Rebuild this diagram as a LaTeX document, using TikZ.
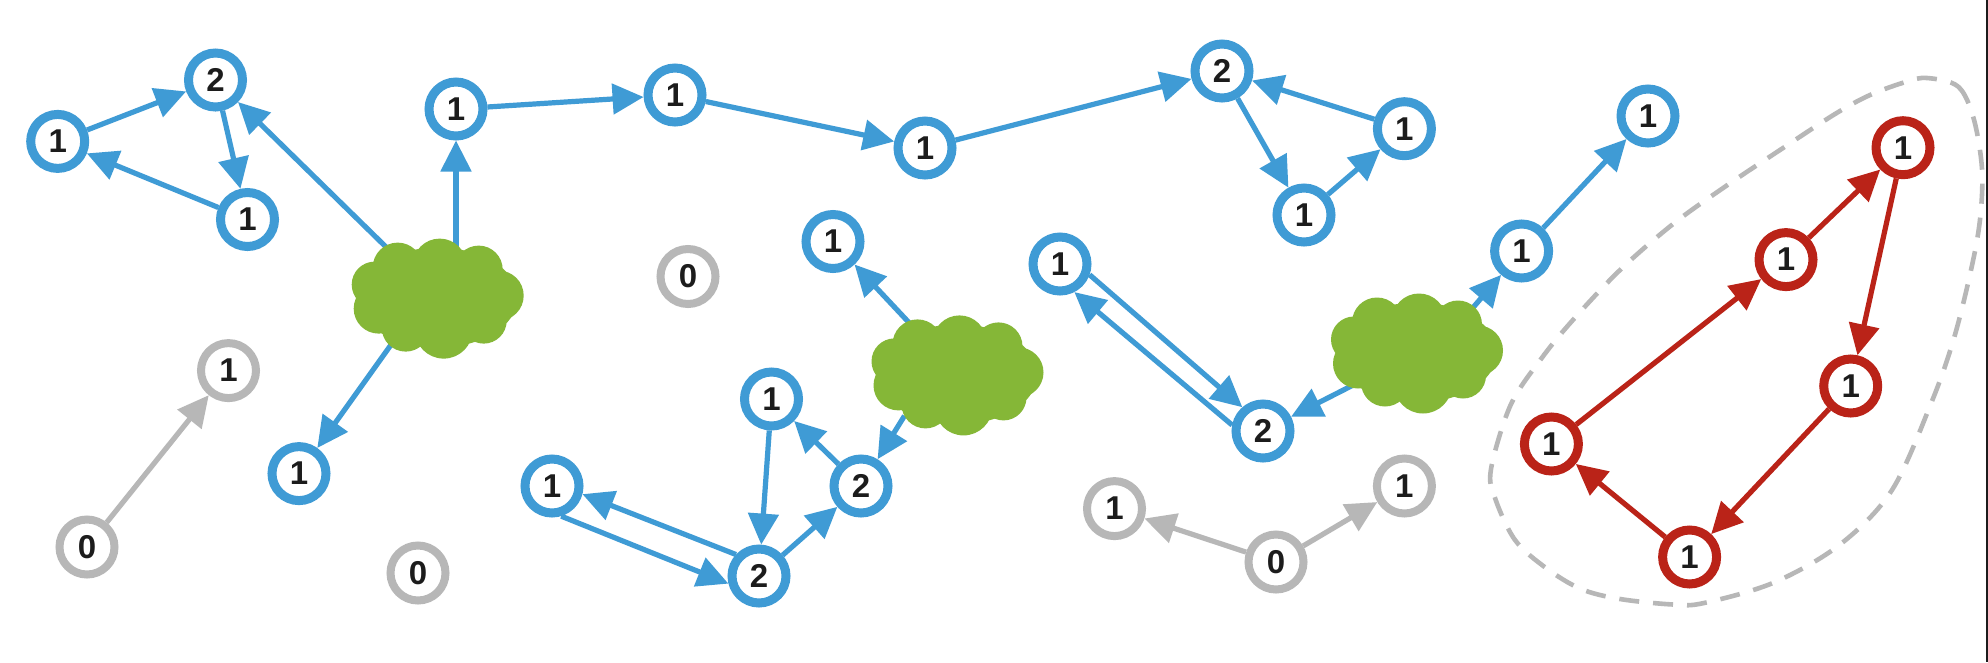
\documentclass[tikz,border=0pt]{standalone}
\usepackage{fontspec}
\setmainfont{Liberation Sans}
\usetikzlibrary{arrows.meta,shapes.geometric}
\definecolor{netblue}{HTML}{3F9BD5}
\definecolor{netgreen}{HTML}{85B737}
\definecolor{netred}{HTML}{BA2318}
\definecolor{netgray}{HTML}{B7B7B7}
\definecolor{netink}{HTML}{1C1C1C}
\tikzset{
  ring/.style={circle,draw,fill=white,line width=9pt,minimum size=54pt,inner sep=0pt,
    text=netink,font=\fontsize{33}{33}\selectfont\bfseries},
  bluering/.style={ring,draw=netblue},
  grayring/.style={ring,draw=netgray,line width=8pt,minimum size=55pt},
  redring/.style={ring,draw=netred},
  link/.style={line width=5.2pt,-{Triangle[length=31pt,width=30pt]}},
  bluelink/.style={link,netblue},
  graylink/.style={link,netgray},
  redlink/.style={link,netred},
  cloudanchor/.style={ellipse,minimum width=160pt,minimum height=110pt,inner sep=0pt},
  cloudfill/.style={fill=netgreen,draw=none},
  hull/.style={draw=netgray,line width=4.6pt,dash pattern=on 20pt off 14pt,line cap=butt},
}
\newcommand{\cloudlobes}[1]{%
  \begin{scope}[shift={(#1.center)}]
    \fill[cloudfill] (0,0) ellipse (80pt and 50pt);
    \foreach \dx/\dy/\rr in {2/-32/27,-40/-30/25,41/-28/24,-63/-13/23,-59/11/25,61/-2/25,46/23/23,6/32/29,-32/30/24}
      \fill[cloudfill] (\dx,\dy) circle (\rr pt);
  \end{scope}}
\begin{document}
\begin{tikzpicture}[x=1pt,y=-1pt]
\useasboundingbox (0,0) rectangle (1988,662);
\fill[white] (0,0) rectangle (1988,662);
\fill[netink] (1986,0) rectangle (1988,662);

% clouds (anchors)
\node[cloudanchor] (cloudA) at (437.7,297.6) {};
\node[cloudanchor] (cloudB) at (957.5,374.4) {};
\node[cloudanchor] (cloudC) at (1417,352.5) {};

% blue nodes
\node[bluering] (a1) at (57.7,141.4) {1};
\node[bluering] (a2) at (215.5,80) {2};
\node[bluering] (a3) at (247.5,219.5) {1};
\node[bluering] (b1) at (456,109) {1};
\node[bluering] (b2) at (675,95) {1};
\node[bluering] (b3) at (925,148) {1};
\node[bluering] (b4) at (1222,71) {2};
\node[bluering] (b5) at (1404.4,128.7) {1};
\node[bluering] (b6) at (1304,215) {1};
\node[bluering] (d1) at (299,473.6) {1};
\node[bluering] (c1) at (833,241.5) {1};
\node[bluering] (e0) at (552,486) {1};
\node[bluering] (e1) at (771.5,399) {1};
\node[bluering] (e2) at (861,486) {2};
\node[bluering] (e3) at (759,576) {2};
\node[bluering] (f1) at (1060,264) {1};
\node[bluering] (f2) at (1263,431) {2};
\node[bluering] (h1) at (1521.6,251) {1};
\node[bluering] (h2) at (1648,116) {1};

% gray nodes
\node[grayring] (g1) at (228.5,370.6) {1};
\node[grayring] (g2) at (87,547) {0};
\node[grayring] (g3) at (418,573) {0};
\node[grayring] (g4) at (688,276.5) {0};
\node[grayring] (g5) at (1114.5,508.6) {1};
\node[grayring] (g6) at (1276,562) {0};
\node[grayring] (g7) at (1404.4,486) {1};

% red nodes
\node[redring] (r1) at (1903,147.7) {1};
\node[redring] (r2) at (1786,259.6) {1};
\node[redring] (r3) at (1850.7,386) {1};
\node[redring] (r4) at (1551.4,444) {1};
\node[redring] (r5) at (1689.6,557) {1};

% blue connectors
\draw[bluelink] (a1) -- (a2);
\draw[bluelink] (a2) -- (a3);
\draw[bluelink] (a3) -- (a1);
\draw[bluelink] (cloudA.center) -- (a2);
\draw[bluelink] (b1 |- cloudA.center) -- (b1);
\draw[bluelink] (cloudA.-135) -- (d1);
\draw[bluelink] (b1) -- (b2);
\draw[bluelink] (b2) -- (b3);
\draw[bluelink] (b3) -- (b4);
\draw[bluelink] (b4) -- (b6);
\draw[bluelink] (b6) -- (b5);
\draw[bluelink] (b5) -- (b4);
\draw[bluelink] (cloudB.center) -- (c1);
\draw[bluelink] (cloudB.-142) -- (e2);
\draw[bluelink] (e2) -- (e1);
\draw[bluelink] (e1) -- (e3);
\draw[bluelink] (e3) -- (e2);
\draw[bluelink] (e0.-73) -- (e3.194);
\draw[bluelink] (e3.137) -- (e0.-15);
\draw[bluelink] (f1.-20) -- (f2.131);
\draw[bluelink] (f2.169) -- (f1.-63);
\draw[bluelink] (cloudC.center) -- (f2);
\draw[bluelink] (cloudC.38) -- (h1);
\draw[bluelink] (h1) -- (h2);

% gray connectors
\draw[graylink] (g2) -- (g1);
\draw[graylink] (g6) -- (g5);
\draw[graylink] (g6) -- (g7);

% red connectors
\draw[redlink] (r5) -- (r4);
\draw[redlink] (r4) -- (r2);
\draw[redlink] (r2) -- (r1);
\draw[redlink] (r1) -- (r3);
\draw[redlink] (r3) -- (r5);

% cloud bodies over the connector starts
\cloudlobes{cloudA}
\cloudlobes{cloudB}
\cloudlobes{cloudC}

% dashed hull
\draw[hull] plot[smooth cycle,tension=0.55] coordinates {
 (1927,78) (1958,86.5) (1973.5,118) (1982,169) (1980,219.5) (1971,270) (1954,338)
 (1932,401) (1892,490) (1840,544.5) (1774,582.5) (1704,603) (1673,604.5) (1620,599)
 (1581,589) (1546,568) (1515,540) (1495,498) (1491,469) (1510.6,405) (1541,359)
 (1572,321) (1620,270) (1673,224) (1726,186) (1783,148) (1835,114) (1870,95) (1905.5,82)};
\end{tikzpicture}
\end{document}
